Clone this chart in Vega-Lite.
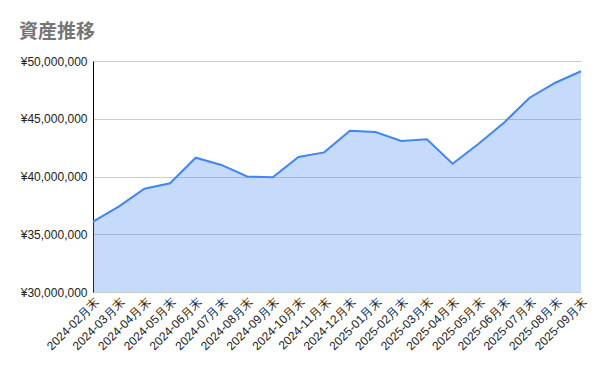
{
  "$schema": "https://vega.github.io/schema/vega-lite/v6.json",
  "autosize": "none",
  "width": 488,
  "height": 231,
  "padding": {"left": 93, "top": 61, "right": 19, "bottom": 79},
  "background": "white",
  "title": {
    "text": "資産推移",
    "anchor": "start",
    "frame": "group",
    "dx": -74,
    "offset": 13,
    "font": "Noto Sans CJK JP",
    "fontSize": 19,
    "fontWeight": "bold",
    "color": "#757575"
  },
  "config": {
    "view": {"stroke": null},
    "font": "Liberation Sans"
  },
  "data": {
    "values": [
      {"month": "2024-02月末", "value": 36090000},
      {"month": "2024-03月末", "value": 37390000},
      {"month": "2024-04月末", "value": 38940000},
      {"month": "2024-05月末", "value": 39410000},
      {"month": "2024-06月末", "value": 41630000},
      {"month": "2024-07月末", "value": 41000000},
      {"month": "2024-08月末", "value": 40000000},
      {"month": "2024-09月末", "value": 39930000},
      {"month": "2024-10月末", "value": 41690000},
      {"month": "2024-11月末", "value": 42090000},
      {"month": "2024-12月末", "value": 43970000},
      {"month": "2025-01月末", "value": 43850000},
      {"month": "2025-02月末", "value": 43070000},
      {"month": "2025-03月末", "value": 43220000},
      {"month": "2025-04月末", "value": 41110000},
      {"month": "2025-05月末", "value": 42810000},
      {"month": "2025-06月末", "value": 44660000},
      {"month": "2025-07月末", "value": 46820000},
      {"month": "2025-08月末", "value": 48120000},
      {"month": "2025-09月末", "value": 49110000}
    ]
  },
  "encoding": {
    "x": {
      "field": "month",
      "type": "ordinal",
      "sort": null,
      "scale": {"type": "point", "padding": 0},
      "axis": {
        "title": null,
        "labelAngle": -45,
        "labelFontSize": 12,
        "labelColor": "#222222",
        "labelFont": "Liberation Sans",
        "ticks": false,
        "domain": false,
        "grid": false,
        "labelPadding": 4
      }
    },
    "y": {
      "field": "value",
      "type": "quantitative",
      "scale": {"domain": [30000000, 50000000], "nice": false, "zero": false},
      "axis": {
        "title": null,
        "values": [30000000, 35000000, 40000000, 45000000, 50000000],
        "labelExpr": "'¥' + format(datum.value, ',')",
        "labelFontSize": 12,
        "labelColor": "#222222",
        "labelFont": "Liberation Sans",
        "ticks": false,
        "domain": true,
        "domainColor": "#000000",
        "domainWidth": 1,
        "grid": true,
        "gridColor": "#cccccc",
        "gridWidth": 1,
        "labelPadding": 6
      }
    }
  },
  "layer": [
    {"mark": {"type": "area", "color": "#4285f4", "opacity": 0.3, "clip": true}},
    {"mark": {"type": "line", "color": "#4285f4", "strokeWidth": 2}}
  ]
}
